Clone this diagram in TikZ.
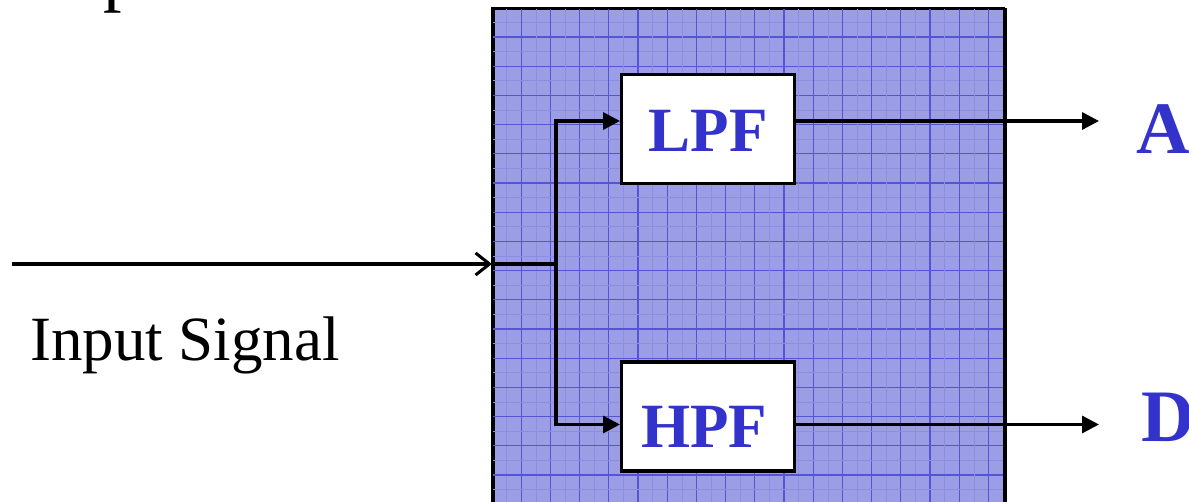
\documentclass[tikz,border=0pt]{standalone}
\usepackage{fontspec}
\setmainfont{Liberation Serif}
\usetikzlibrary{arrows.meta}
\definecolor{panelfill}{RGB}{155,158,228}
\definecolor{gridmajor}{RGB}{84,84,212}
\definecolor{gridminor}{RGB}{140,142,226}
\definecolor{labelblue}{RGB}{51,51,204}
\tikzset{
  conn/.style={line width=3.4pt, draw=black},
  filledtip/.style={-{Triangle[length=17pt,width=17pt]}},
  opentip/.style={-{Straight Barb[length=14pt,width=22pt,line width=3pt]}},
  filterbox/.style={draw=black, line width=3.4pt, fill=white, minimum width=173pt, minimum height=109pt, inner sep=0pt},
  filterlabel/.style={text=labelblue, font=\bfseries\fontsize{63}{63}\selectfont, inner sep=0pt, anchor=base},
  outlabel/.style={text=labelblue, font=\bfseries\fontsize{74}{74}\selectfont, inner sep=0pt, anchor=base west},
}
\begin{document}
\begin{tikzpicture}[x=1pt,y=-1pt]
\useasboundingbox (0,0) rectangle (1189,502);
% cropped title letter
\node[font=\fontsize{74}{74}\selectfont, inner sep=0pt, anchor=base west] (title) at (103,-2) {p};
% panel
\node[draw=black, line width=2.5pt, fill=panelfill, minimum width=512pt, minimum height=512pt, inner sep=0pt, anchor=north west] (panel) at (492,8) {};
\begin{scope}
  \clip (492,8) rectangle (1004,520);
  \foreach \k in {0,...,18} {
    \draw[gridminor, line width=0.6pt] ({506.6+29.2*\k},8) -- ({506.6+29.2*\k},520);
    \draw[gridminor, line width=0.6pt] (492,{22.4+29.2*\k}) -- (1004,{22.4+29.2*\k});
    \draw[gridmajor, line width=1.3pt] ({521.2+29.2*\k},8) -- ({521.2+29.2*\k},520);
    \draw[gridmajor, line width=1.3pt] (492,{37+29.2*\k}) -- (1004,{37+29.2*\k});
  }
\end{scope}
\draw[black, line width=2.5pt] (492,520) -- (492,8) -- (1004,8) -- (1004,520);
% filter boxes
\node[filterbox] (lpf) at (708,128.8) {};
\node[filterbox] (hpf) at (708,416.5) {};
\node[filterlabel] (lpfT) at (708,152) {LPF};
\node[filterlabel] (hpfT) at (704,448) {HPF};
% outputs
\node[outlabel] (outA) at (1136,154) {A};
\node[outlabel] (outD) at (1141,442) {D};
% connectors
\coordinate (in0) at (12,264);
\coordinate (inEnd) at (492,264);
\coordinate (j) at (556,264);
\coordinate (lpfIn) at (620,121);
\coordinate (hpfIn) at (620,424.5);
\coordinate (lpfOut) at (796,121);
\coordinate (hpfOut) at (796,424.5);
\coordinate (aTip) at (1099,121);
\coordinate (dTip) at (1099,424.5);
\draw[conn, opentip] (in0) -- (inEnd);
\draw[conn] (inEnd) -- (j);
\draw[conn, filledtip] (j) |- (lpfIn);
\draw[conn, filledtip] (j) |- (hpfIn);
\draw[conn, filledtip] (lpfOut) -- (aTip);
\draw[conn, filledtip] (hpfOut) -- (dTip);
% input label
\node[font=\fontsize{63}{63}\selectfont, inner sep=0pt, anchor=base west] (inlabel) at (30,361) {Input Signal};
\end{tikzpicture}
\end{document}
